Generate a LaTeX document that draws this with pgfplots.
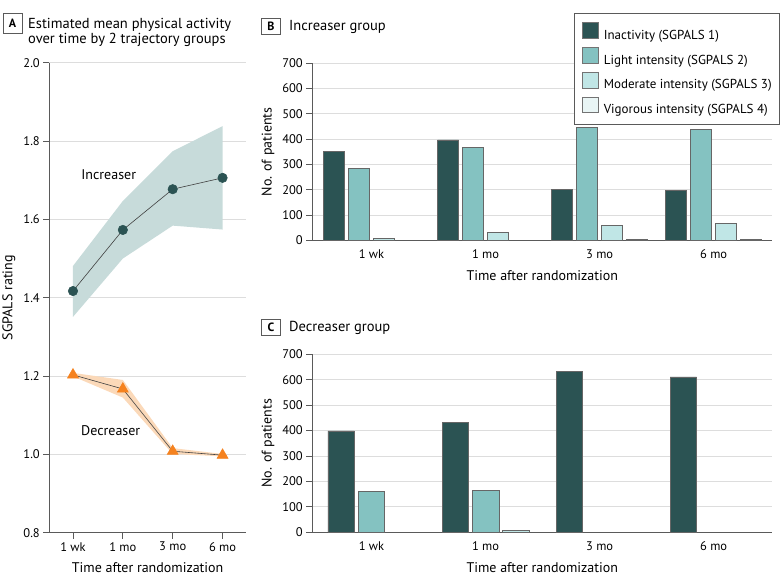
\documentclass[border=0pt]{standalone}
\usepackage{pgfplots}
\pgfplotsset{compat=1.18}
\usepackage{fontspec}
\setmainfont{PT Sans}
\setsansfont{PT Sans}

\definecolor{cInact}{HTML}{2B5353}
\definecolor{cLight}{HTML}{84C2C1}
\definecolor{cMod}{HTML}{C0E6E6}
\definecolor{cVig}{HTML}{E9F5F5}
\definecolor{cBand}{HTML}{C7DBDA}
\definecolor{cOrange}{HTML}{F5821F}
\definecolor{cOrBand}{HTML}{FBD9B9}
\definecolor{cGrid}{HTML}{DDDDDD}
\definecolor{cAxis}{HTML}{5A5A5A}

\newcommand{\tickfont}{\fontsize{12.5}{14}\selectfont}
\newcommand{\labfont}{\fontsize{14}{16}\selectfont}
\newcommand{\titfont}{\fontsize{14.5}{16}\selectfont}

\pgfplotsset{
  jama/.style={
    scale only axis, anchor=south west, clip=false,
    axis x line=bottom, axis y line=left,
    axis line style={-, cAxis, line width=0.9pt},
    ymajorgrids, grid style={cGrid, line width=0.9pt},
    tick style={cAxis, line width=0.9pt},
    tick align=outside, major tick length=6pt,
    ticklabel style={font=\tickfont},
    label style={font=\labfont},
    /pgf/number format/assume math mode=true,
    xtick={0,1,2,3}, xticklabels={1 wk,1 mo,3 mo,6 mo},
    xlabel={Time after randomization},
    xlabel style={at={(axis description cs:0.5,0)}, anchor=base, yshift=-39.8pt},
  },
  bars/.style={
    jama, ybar, ymin=0, ymax=700, ytick={0,100,...,700},
    xtick style={draw=none},
    ylabel={No. of patients},
    ylabel style={at={(axis description cs:-0.0963,0.5)}, anchor=center},
    every axis plot/.append style={draw=black!60, line width=0.6pt},
  },
  sq/.style={legend image code/.code={%
    \draw[##1, draw=black!55, line width=0.6pt] (0pt,-3pt) rectangle (15.7pt,12.6pt);}},
}

\begin{document}
\begin{tikzpicture}
\path[use as bounding box] (0,0) rectangle (780pt,587pt);

% panel titles
\draw[cAxis, line width=0.8pt] (3pt,554pt) rectangle (22pt,574pt);
\node[font=\bfseries\fontsize{12}{14}\selectfont] at (12.5pt,564pt) {A};
\node[anchor=base west, font=\titfont, inner sep=0pt] at (28pt,558.7pt) {Estimated mean physical activity};
\node[anchor=base west, font=\titfont, inner sep=0pt] at (28pt,543.7pt) {over time by 2 trajectory groups};

\draw[cAxis, line width=0.8pt] (261.7pt,553pt) rectangle (280.3pt,569pt);
\node[font=\bfseries\fontsize{12}{14}\selectfont] at (271pt,561pt) {B};
\node[anchor=base west, font=\titfont, inner sep=0pt] at (289pt,556.5pt) {Increaser group};

\draw[cAxis, line width=0.8pt] (261.7pt,251.7pt) rectangle (280.3pt,268pt);
\node[font=\bfseries\fontsize{12}{14}\selectfont] at (271pt,259.8pt) {C};
\node[anchor=base west, font=\titfont, inner sep=0pt] at (289pt,255.3pt) {Decreaser group};

% panel A
\begin{axis}[jama,
  at={(49.3pt,54.3pt)}, width=196.7pt, height=470pt,
  xmin=-0.475, xmax=3.47, ymin=0.8, ymax=2.0,
  ytick={0.8,1.0,1.2,1.4,1.6,1.8,2.0},
  yticklabel style={/pgf/number format/.cd, fixed, fixed zerofill, precision=1},
  ylabel={SGPALS rating},
  ylabel style={at={(axis description cs:-0.206,0.5)}, anchor=center},
]
\addplot[fill=cBand, draw=none] coordinates {
  (0,1.481) (1,1.647) (2,1.774) (3,1.838) (3,1.574) (2,1.584) (1,1.500) (0,1.351)} -- cycle;
\addplot[fill=cOrBand, draw=none] coordinates {
  (0,1.208) (1,1.190) (2,1.016) (3,1.001) (3,0.995) (2,1.001) (1,1.145) (0,1.199)} -- cycle;
\addplot[black!75, line width=0.6pt, mark=*, mark size=4.7pt,
  mark options={fill=cInact, draw=cInact}] coordinates {
  (0,1.417) (1,1.573) (2,1.677) (3,1.706)};
\addplot[black!75, line width=0.6pt, mark=triangle*, mark size=6.3pt,
  mark options={fill=cOrange, draw=cOrange}] coordinates {
  (0,1.203) (1,1.167) (2,1.008) (3,0.998)};
\node[font=\labfont] at (axis cs:0.717,1.714) {Increaser};
\node[font=\labfont] at (axis cs:0.757,1.061) {Decreaser};
\end{axis}

% panel B
\begin{axis}[bars,
  at={(312.3pt,346.7pt)}, width=460pt, height=177pt,
  xmin=-0.519, xmax=3.514, ybar=4pt, bar width=21pt,
  legend style={at={(0.5696,1.2825)}, anchor=north west, draw=cAxis,
    line width=0.8pt, fill=white, font=\fontsize{13}{15}\selectfont,
    inner xsep=7.5pt, inner ysep=8.8pt, row sep=6.5pt, column sep=5.3pt,
    nodes={inner sep=0pt}},
  legend cell align=left,
]
\addplot[fill=cInact, sq] coordinates {(0,351) (1,397) (2,201) (3,198)};
\addlegendentry{Inactivity (SGPALS 1)}
\addplot[fill=cLight, sq] coordinates {(0,285) (1,367) (2,446) (3,438)};
\addlegendentry{Light intensity (SGPALS 2)}
\addplot[fill=cMod, sq] coordinates {(0,8) (1,31) (2,59) (3,66)};
\addlegendentry{Moderate intensity (SGPALS 3)}
\addplot[fill=cVig, sq] coordinates {(2,4) (3,3)};
\addlegendentry{Vigorous intensity (SGPALS 4)}
\end{axis}

% panel C
\begin{axis}[bars,
  at={(312.3pt,54.7pt)}, width=460pt, height=178pt,
  xmin=-0.519, xmax=3.514, ybar=3.8pt, bar width=26.5pt,
]
\addplot[fill=cInact] coordinates {(0,399) (1,433) (2,634) (3,611)};
\addplot[fill=cLight] coordinates {(0,162) (1,166)};
\addplot[fill=cMod] coordinates {(1,7)};
\end{axis}
\end{tikzpicture}
\end{document}
